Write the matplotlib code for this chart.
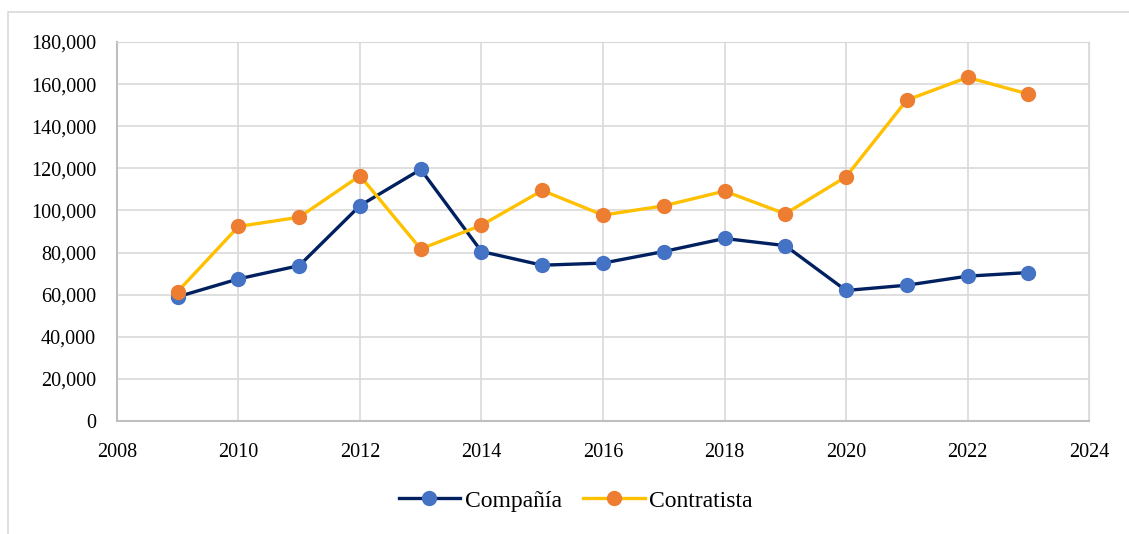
import matplotlib.pyplot as plt
from matplotlib.patches import Rectangle
from matplotlib.ticker import FuncFormatter

years = [2009, 2010, 2011, 2012, 2013, 2014, 2015, 2016, 2017, 2018, 2019, 2020, 2021, 2022, 2023]
compania = [59000, 67500, 73800, 102300, 119500, 80500, 74000, 75000, 80500, 86700, 83300, 62000, 64500, 68800, 70500]
contratista = [61500, 92400, 96800, 116500, 81700, 93000, 109500, 97800, 102200, 109200, 98400, 116000, 152400, 163200, 155300]

plt.rcParams['font.family'] = ['Liberation Serif', 'DejaVu Serif']

fig = plt.figure(figsize=(11.29, 5.34), dpi=100)
ax = fig.add_axes([0.1036, 0.2116, 0.861, 0.7097])

# outer chart border
fig.patches.append(Rectangle((0.007, -0.01), 1.0, 0.988, transform=fig.transFigure,
                             fill=False, edgecolor='#d9d9d9', linewidth=1.2))

ax.plot(years, compania, color='#002060', lw=2.4, marker='o', markersize=10,
        markerfacecolor='#4472C4', markeredgecolor='#4472C4', label='Compañía', zorder=3)
ax.plot(years, contratista, color='#FFC000', lw=2.4, marker='o', markersize=10,
        markerfacecolor='#ED7D31', markeredgecolor='#ED7D31', label='Contratista', zorder=3)

ax.set_xlim(2008, 2024)
ax.set_ylim(0, 180000)
ax.set_xticks(range(2008, 2025, 2))
ax.set_yticks(range(0, 180001, 20000))
ax.yaxis.set_major_formatter(FuncFormatter(lambda v, p: f'{int(v):,}'))
ax.grid(True, color='#d9d9d9', lw=1.2)
ax.set_axisbelow(True)
for s in ['top', 'right']:
    ax.spines[s].set_color('#d9d9d9')
for s in ['left', 'bottom']:
    ax.spines[s].set_color('#bfbfbf')
    ax.spines[s].set_linewidth(1.5)
ax.tick_params(length=0, labelsize=14.5, colors='black')
ax.tick_params(axis='x', pad=16)
ax.tick_params(axis='y', pad=15)

fig.legend(loc='center', bbox_to_anchor=(0.51, 0.062), ncol=2, frameon=False,
           fontsize=17, handlelength=2.6, columnspacing=0.9, handletextpad=0.2)

fig.savefig('out.png', dpi=100)
